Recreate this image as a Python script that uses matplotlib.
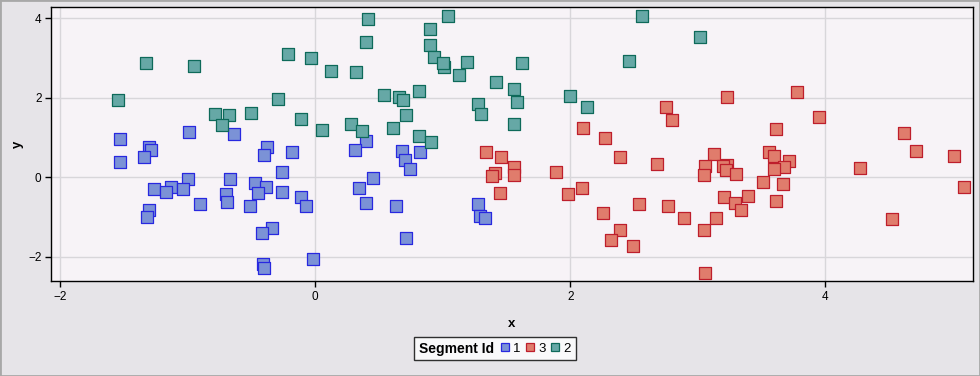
import matplotlib
matplotlib.use("Agg")
import matplotlib.pyplot as plt
from matplotlib.lines import Line2D
from matplotlib.patches import Rectangle
from matplotlib.offsetbox import HPacker

plt.rcParams['font.family'] = ['Liberation Sans', 'DejaVu Sans']

seg1_x = [-1.53, -1.53, -1.30, -1.285, -1.34, -0.99, -0.64, -0.377, -0.40, -0.18, -0.26,
          -1.00, -0.67, -1.265, -1.135, -1.17, -1.04, -0.70, -0.69, -0.90, -0.476, -0.39,
          -0.45, -0.26, -0.51, -0.11, -0.07, -1.30, -1.32, -0.34, -0.42, -0.41, -0.40,
          -0.016, 0.40, 0.31, 0.68, 0.70, 0.74, 0.82, 0.456, 0.345, 0.40, 0.63, 0.715,
          1.28, 1.29, 1.335]
seg1_y = [0.96, 0.38, 0.76, 0.68, 0.50, 1.13, 1.08, 0.76, 0.55, 0.63, 0.13,
          -0.05, -0.03, -0.30, -0.25, -0.38, -0.30, -0.42, -0.62, -0.68, -0.135, -0.24,
          -0.40, -0.38, -0.73, -0.49, -0.71, -0.83, -1.01, -1.28, -1.41, -2.17, -2.28,
          -2.06, 0.91, 0.68, 0.65, 0.43, 0.20, 0.63, -0.025, -0.28, -0.65, -0.73, -1.54,
          -0.68, -0.98, -1.03]

seg3_x = [1.34, 1.46, 1.56, 1.41, 1.39, 1.555, 1.445, 1.885, 2.10, 2.27, 2.39, 1.98,
          2.09, 2.54, 2.26, 2.39, 2.32, 2.49, 3.23, 3.78, 2.75, 2.80, 3.95, 3.61, 4.62,
          4.71, 5.01, 2.68, 3.13, 3.06, 3.05, 3.23, 3.20, 3.22, 3.30, 3.56, 3.60, 3.715,
          3.68, 3.60, 3.51, 3.67, 4.27, 5.09, 2.77, 3.205, 3.29, 3.39, 3.34, 3.61, 2.89,
          3.14, 3.05, 4.52, 3.06]
seg3_y = [0.63, 0.50, 0.25, 0.10, 0.025, 0.05, -0.40, 0.13, 1.23, 0.98, 0.50, -0.43,
          -0.28, -0.68, -0.91, -1.335, -1.59, -1.74, 2.02, 2.14, 1.76, 1.44, 1.51, 1.21, 1.11,
          0.65, 0.53, 0.33, 0.58, 0.28, 0.05, 0.30, 0.28, 0.18, 0.08, 0.63, 0.53, 0.40,
          0.25, 0.20, -0.13, -0.18, 0.23, -0.25, -0.73, -0.50, -0.655, -0.48, -0.83, -0.60, -1.03,
          -1.03, -1.335, -1.06, -2.42]

seg2_x = [-1.33, -0.95, -1.55, -0.21, -0.03, -0.79, -0.68, -0.73, -0.50, -0.29, -0.11,
          0.055, 0.41, 1.04, 0.40, 0.90, 0.90, 0.93, 1.006, 1.00, 1.19, 1.13, 1.62, 0.126,
          0.32, 1.42, 1.555, 1.58, 1.995, 2.13, 2.56, 2.46, 0.54, 0.66, 0.69, 0.81, 1.28,
          1.30, 0.715, 0.28, 0.37, 0.61, 0.81, 0.91, 1.56, 3.02]
seg2_y = [2.88, 2.80, 1.94, 3.11, 3.00, 1.59, 1.56, 1.32, 1.61, 1.96, 1.47,
          1.18, 3.98, 4.06, 3.40, 3.73, 3.32, 3.02, 2.77, 2.87, 2.90, 2.57, 2.87, 2.67,
          2.64, 2.39, 2.22, 1.89, 2.04, 1.76, 4.06, 2.92, 2.07, 2.01, 1.94, 2.17, 1.84,
          1.59, 1.56, 1.335, 1.16, 1.23, 1.03, 0.88, 1.33, 3.53]

legend_order = ["1", "3", "2"]
x_ticks = [-2, 0, 2, 4]
y_ticks = [-2, 0, 2, 4]

styles = {
    "1": dict(fc="#7B92D6", ec="#2828E0"),
    "3": dict(fc="#E07C6C", ec="#BE1E2C"),
    "2": dict(fc="#66A8A6", ec="#0E6A5A"),
}
data = {"1": (seg1_x, seg1_y), "3": (seg3_x, seg3_y), "2": (seg2_x, seg2_y)}

fig = plt.figure(figsize=(9.8, 3.76), dpi=100, facecolor="#E6E4E8")
ax = fig.add_axes([51.3 / 980, 95 / 376, (972.7 - 51.3) / 980, (281 - 7.3) / 376])
ax.set_facecolor("#F7F3F7")

ms = 76
for key in ["1", "3", "2"]:
    xs, ys = data[key]
    ax.scatter(xs, ys, s=ms, marker="s", facecolors=styles[key]["fc"],
               edgecolors=styles[key]["ec"], linewidths=0.9, zorder=3)

ax.set_xlim(-2.07, 5.156)
ax.set_ylim(-2.61, 4.28)
ax.set_xticks(x_ticks)
ax.set_yticks(y_ticks)
ax.grid(True, color="#D8D6DA", linewidth=1.0, zorder=0)
ax.set_axisbelow(True)
for sp in ax.spines.values():
    sp.set_color("black")
    sp.set_linewidth(1.0)
ax.tick_params(axis="both", direction="out", length=4, width=1, colors="black",
               labelsize=8.5, pad=3)
ax.set_xlabel("x", fontsize=9.5, fontweight="bold", labelpad=11)
ax.set_ylabel("y", fontsize=9.5, fontweight="bold", labelpad=3)

handles = [Line2D([0], [0], marker="s", linestyle="none", markersize=6.2,
                  markerfacecolor=styles[k]["fc"], markeredgecolor=styles[k]["ec"],
                  markeredgewidth=0.9) for k in legend_order]
leg = fig.legend(handles, legend_order, loc="center",
                 bbox_to_anchor=(494.8 / 980, 1 - 348.6 / 376),
                 ncol=3, frameon=True, fontsize=9.5, title="Segment Id",
                 handlelength=0.6, handletextpad=0.35, columnspacing=0.4,
                 borderpad=0.35, fancybox=False, edgecolor="black", facecolor="white",
                 borderaxespad=0)
leg.get_frame().set_linewidth(1.0)
title = leg.get_title()
title.set_fontweight("bold")
title.set_fontsize(10)
children = leg._legend_box.get_children()
newbox = HPacker(pad=leg._legend_box.pad, sep=5, children=children, align="center")
newbox.set_figure(fig)
newbox.set_offset(leg._findoffset)
leg._legend_box = newbox

fig.patches.append(Rectangle((0, 0), 1, 1, transform=fig.transFigure, fill=False,
                             edgecolor="#A8A8A8", linewidth=2))

fig.savefig("out.png", dpi=100, facecolor=fig.get_facecolor())
